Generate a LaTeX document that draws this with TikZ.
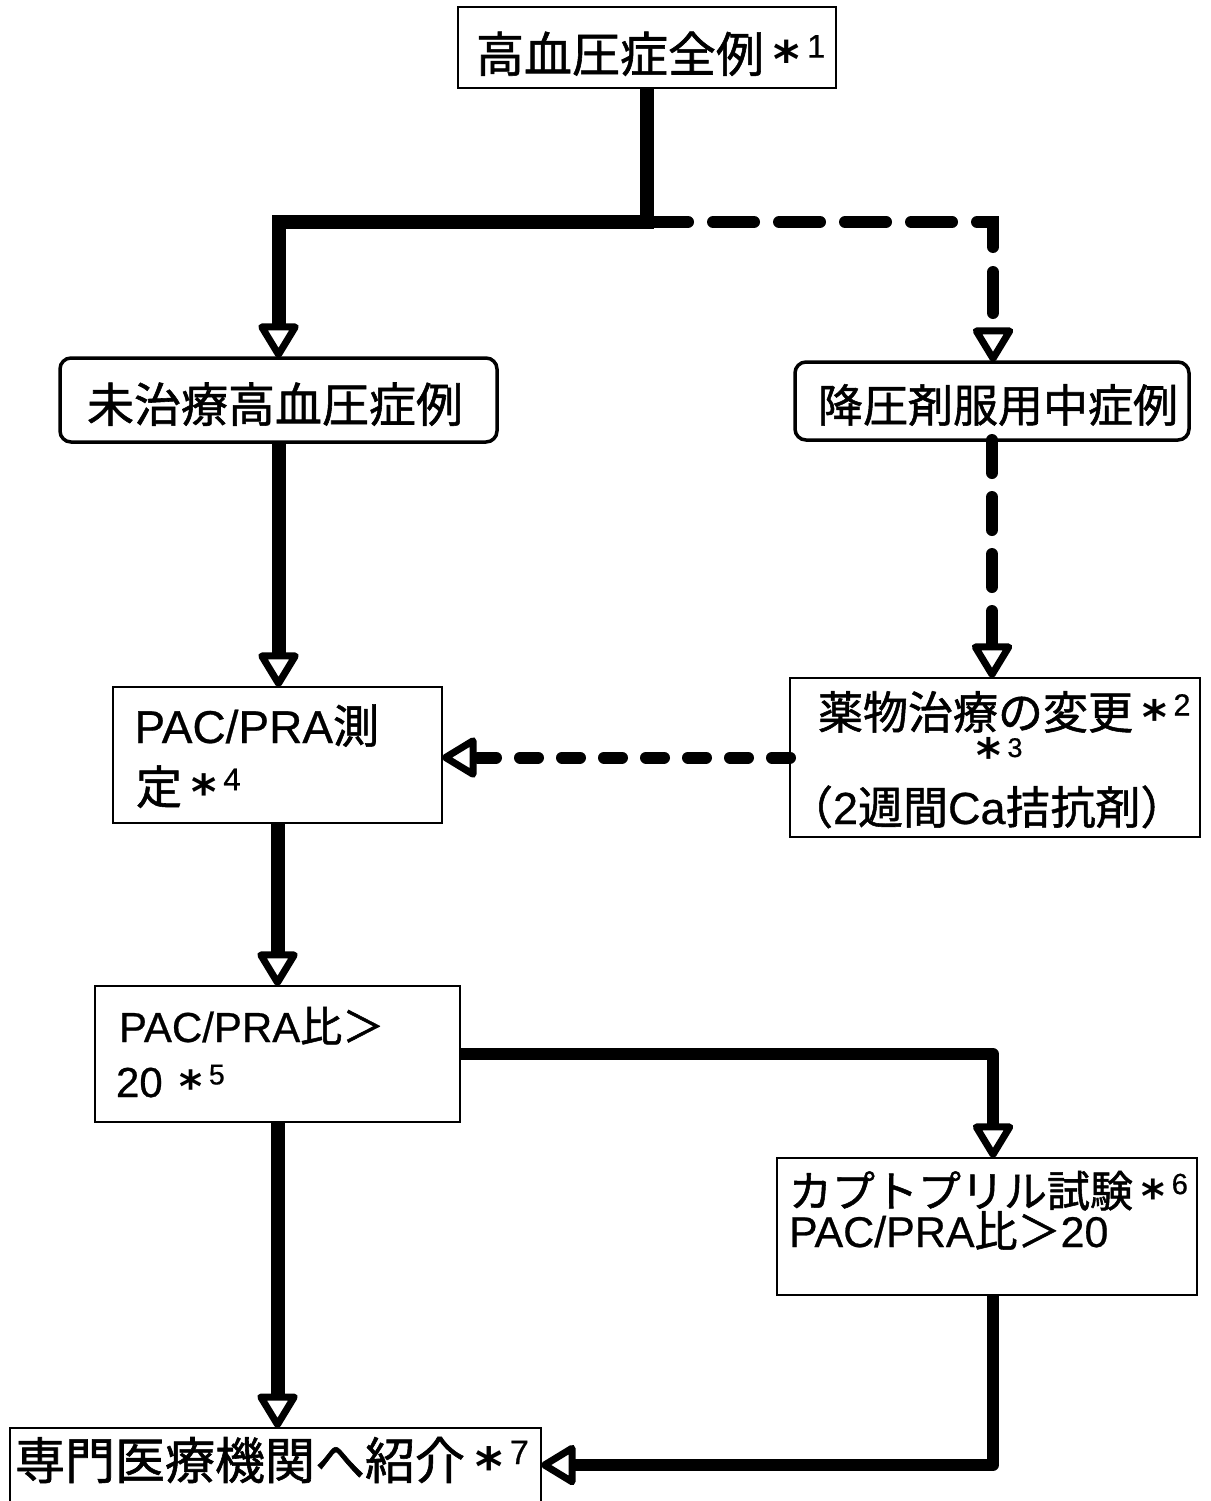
\documentclass[tikz,border=0pt]{standalone}
\usepackage{fontspec}
\usepackage{graphicx}
\setmainfont[FakeBold=0.6]{Liberation Sans}
\newfontfamily\jp[FakeBold=1.2]{Noto Sans CJK JP}
\newfontfamily\djv{DejaVu Sans}
\usetikzlibrary{arrows.meta}
\newcommand\nt[1]{\hspace{0.2em}\raisebox{-0.12em}{\scalebox{1.05}{\djv\bfseries *}}\hspace{0.15em}\raisebox{0.3em}{\scalebox{0.68}{#1}}}
\tikzset{
  box/.style={draw, line width=2.5pt, inner sep=0pt, outer sep=0pt, fill=white},
  rbox/.style={box, line width=3.5pt, rounded corners=11pt},
  tx/.style={anchor=base west, inner sep=0pt, outer sep=0pt},
  otri/.tip={Triangle[open, round, length=38pt, width=44pt, line width=7pt]},
  solidc/.style={line width=14pt, -otri},
  dashc/.style={line width=12pt, line cap=round, -otri},
  dotc/.style={line width=12pt, line join=round, -otri},
}
\begin{document}
\begin{tikzpicture}[x=1pt,y=-1pt]
\fill[white] (0,0) rectangle (1210,1501);
\useasboundingbox (0,0) rectangle (1210,1501);

% boxes
\node[box, minimum width=378pt, minimum height=81pt] (top) at (647,47.5) {};
\node[rbox, minimum width=437pt, minimum height=84pt] (untreated) at (278.5,400) {};
\node[rbox, minimum width=394pt, minimum height=78pt] (medicated) at (992,401) {};
\node[box, minimum width=329pt, minimum height=136pt] (pac) at (277.5,755) {};
\node[box, minimum width=410pt, minimum height=159pt] (drug) at (995,757.5) {};
\node[box, minimum width=365pt, minimum height=136pt] (ratio) at (277.5,1054) {};
\node[box, minimum width=420pt, minimum height=137pt] (capto) at (987,1226.5) {};
\node[box, minimum width=531pt, minimum height=82pt] (refer) at (275.5,1469) {};

% texts
\node[tx, font=\fontsize{48}{56}\selectfont] (ttop) at (476,72) {{\jp 高血圧症全例}\nt{1}};
\node[tx, font=\fontsize{47}{56}\selectfont] (tuntreated) at (87,422) {\jp 未治療高血圧症例};
\node[tx, font=\fontsize{45}{56}\selectfont] (tmedicated) at (818,422) {\jp 降圧剤服用中症例};
\node[tx, font=\fontsize{46}{56}\selectfont] (tpac1) at (134.5,743) {PAC/PRA{\jp 測}};
\node[tx, font=\fontsize{46}{56}\selectfont] (tpac2) at (136,804) {{\jp 定}\nt{4}};
\node[tx, font=\fontsize{45}{56}\selectfont] (tdrug1) at (818,729) {{\jp 薬物治療の変更}\nt{2}};
\node[tx, font=\fontsize{45}{56}\selectfont] (tdrug2) at (976,757) {\raisebox{-15pt}{\scalebox{1.05}{\djv\bfseries *}}\hspace{0.15em}\scalebox{0.6}{3}};
\node[tx, font=\fontsize{45}{56}\selectfont] (tdrug3) at (788,824) {{\jp （}2{\jp 週間}Ca{\jp 拮抗剤）}};
\node[tx, font=\fontsize{42}{56}\selectfont] (tratio1) at (119,1042) {PAC/PRA{\jp 比＞}};
\node[tx, font=\fontsize{42}{56}\selectfont] (tratio2) at (116,1097) {20\hspace{0.2em}\nt{5}};
\node[tx, font=\fontsize{43}{56}\selectfont] (tcapto1) at (789,1207) {{\jp カプトプリル試験}\nt{6}};
\node[tx, font=\fontsize{43}{56}\selectfont] (tcapto2) at (789,1247) {PAC/PRA{\jp 比＞}20};
\node[tx, font=\fontsize{50}{58}\selectfont] (trefer) at (15,1479) {{\jp 専門医療機関へ紹介}\nt{7}};

% connectors
\coordinate (j1) at (647,222);
\draw[solidc] (top.south) -- (j1) -| (untreated.north);
\draw[dashc, dash pattern=on 41pt off 25pt] (j1) -| ([xshift=1pt]medicated.north);
\draw[solidc] (untreated.south) -- (untreated.south |- pac.north);
\draw[dashc, dash pattern=on 33pt off 24pt] (medicated.south) -- (medicated.south |- drug.north);
\draw[dashc, dash pattern=on 18pt off 24pt] (drug.west) -- (drug.west -| pac.east);
\draw[solidc] (pac.south) -- (ratio.north);
\draw[dotc] (ratio.east) -| ([xshift=6pt]capto.north);
\draw[solidc] (ratio.south) -- (ratio.south |- refer.north);
\draw[dotc] ([xshift=6pt]capto.south) |- ([yshift=4pt]refer.east);
\end{tikzpicture}
\end{document}
